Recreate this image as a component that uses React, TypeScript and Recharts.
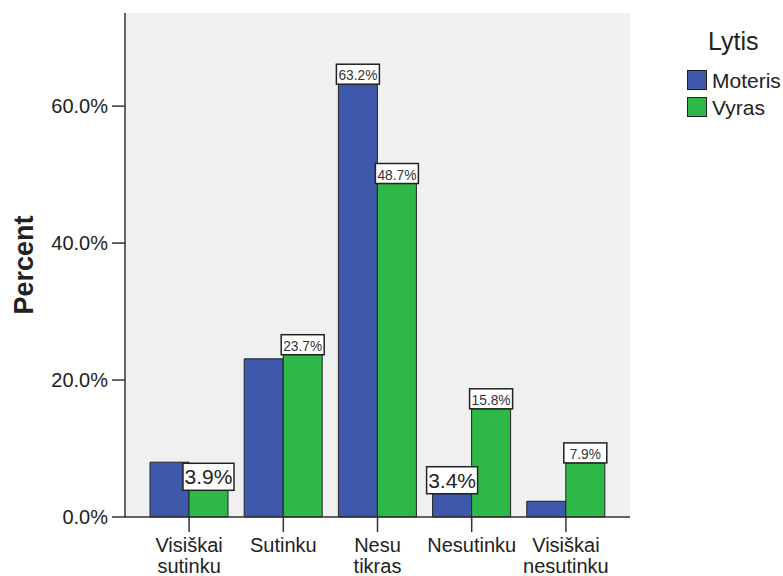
import React from 'react';
import { BarChart, Bar, XAxis, YAxis, CartesianGrid, Legend, LabelList } from 'recharts';

const categories = ['Visiškai sutinku', 'Sutinku', 'Nesu tikras', 'Nesutinku', 'Visiškai nesutinku'];
const moteris = [8.0, 23.1, 63.2, 3.4, 2.3];
const vyras = [3.9, 23.7, 48.7, 15.8, 7.9];
// SPSS only printed a couple of the labels for the first series
const moterisLabels = [null, null, 63.2, 3.4, null];
const yTicks = [0, 20, 40, 60];

const FONT = '"Liberation Sans", Arial, sans-serif';
const BLUE = '#3E58AC';
const GREEN = '#2EB848';
const INK = '#222';

const data = categories.map((c, i) => ({
  cat: c,
  moteris: moteris[i],
  vyras: vyras[i],
  moterisLabel: moterisLabels[i],
  vyrasLabel: vyras[i],
}));

const CatTick = (props: any) => {
  const { x, y, payload } = props;
  const lines = String(payload.value).split(' ');
  return (
    <text x={x} y={y} textAnchor="middle" fontSize={20} fill={INK} fontFamily={FONT}>
      {lines.map((l, i) => (
        <tspan key={i} x={x} dy={i === 0 ? 18 : 21}>{l}</tspan>
      ))}
    </text>
  );
};

const ValueLabel = (props: any) => {
  const { x, y, width, value } = props;
  if (value === null || value === undefined) return null;
  const cx = Number(x) + Number(width) / 2;
  const top = Number(y);
  const big = value < 5;
  const w = big ? 51 : 43;
  const h = big ? 27 : 20;
  const txt = value.toFixed(1) + '%';
  return (
    <g>
      <rect x={cx - w / 2} y={top - h} width={w} height={h} fill="#fff" stroke={INK} strokeWidth={1.5} />
      {big ? (
        <text x={cx} y={top - 6} textAnchor="middle" fontSize={21} fill={INK} fontFamily={FONT}>{txt}</text>
      ) : (
        <text x={cx} y={top - 4} textAnchor="middle" fontSize={15} fill="#333" fontFamily={FONT}
          textLength={txt.length * 7.8} lengthAdjust="spacingAndGlyphs">{txt}</text>
      )}
    </g>
  );
};

const PercentLabel = (props: any) => {
  const vb = props.viewBox || {};
  const cy = (vb.y || 0) + (vb.height || 0) / 2;
  return (
    <text x={33} y={cy} transform={`rotate(-90, 33, ${cy})`} textAnchor="middle"
      fontSize={27} fontWeight="bold" fill={INK} fontFamily={FONT}>Percent</text>
  );
};

const LegendBox = (props: any) => {
  const items = props.payload || [];
  return (
    <div style={{ position: 'relative', width: 103, height: 125, fontFamily: FONT, color: INK }}>
      <div style={{ position: 'absolute', left: 28, top: 29, fontSize: 25, lineHeight: '25px' }}>Lytis</div>
      {items.map((it: any, i: number) => (
        <div key={i}>
          <div style={{
            position: 'absolute', left: 7, top: 70 + i * 27, width: 18, height: 18,
            background: it.color, border: `1px solid ${INK}`,
          }} />
          <div style={{ position: 'absolute', left: 32, top: 71 + i * 27, fontSize: 21, lineHeight: '20px' }}>
            {it.value}
          </div>
        </div>
      ))}
    </div>
  );
};

export default function App() {
  return (
    <div style={{ position: 'absolute', left: 0, top: 0, background: '#fff' }}>
      <BarChart width={783} height={576} data={data} barSize={39} barGap={0}
        margin={{ top: 13, right: 153, bottom: 0, left: 0 }}>
        <CartesianGrid horizontal={false} vertical={false} fill="#f0f0f0" fillOpacity={1} />
        <XAxis dataKey="cat" height={59} padding={{ left: 17, right: 17 }} interval={0}
          tick={<CatTick />} tickSize={15} tickLine={{ stroke: '#333', strokeWidth: 1.5 }}
          axisLine={{ stroke: '#333', strokeWidth: 1.5 }} />
        <XAxis xAxisId="top" dataKey="cat" orientation="top" height={0} tick={false} tickLine={false}
          axisLine={{ stroke: '#333', strokeWidth: 1.5 }} />
        <YAxis width={125} domain={[0, 73.6]} ticks={yTicks} tickSize={13} tickMargin={4}
          tickFormatter={(v: number) => v.toFixed(1) + '%'}
          tick={{ fontSize: 20, fill: INK, fontFamily: FONT }}
          tickLine={{ stroke: '#333', strokeWidth: 1.5 }}
          axisLine={{ stroke: '#333', strokeWidth: 1.5 }}
          label={<PercentLabel />} />
        <YAxis yAxisId="right" orientation="right" width={0} domain={[0, 73.6]} tick={false} tickLine={false}
          axisLine={{ stroke: '#333', strokeWidth: 1.5 }} />
        <Legend layout="vertical" align="center" verticalAlign="middle" content={<LegendBox />}
          wrapperStyle={{ left: 680, top: 0, right: 'auto', width: 103 }} />
        <Bar dataKey="moteris" name="Moteris" fill={BLUE} stroke={INK} strokeWidth={1} isAnimationActive={false}>
          <LabelList dataKey="moterisLabel" content={<ValueLabel />} />
        </Bar>
        <Bar dataKey="vyras" name="Vyras" fill={GREEN} stroke={INK} strokeWidth={1} isAnimationActive={false}>
          <LabelList dataKey="vyrasLabel" content={<ValueLabel />} />
        </Bar>
      </BarChart>
    </div>
  );
}
